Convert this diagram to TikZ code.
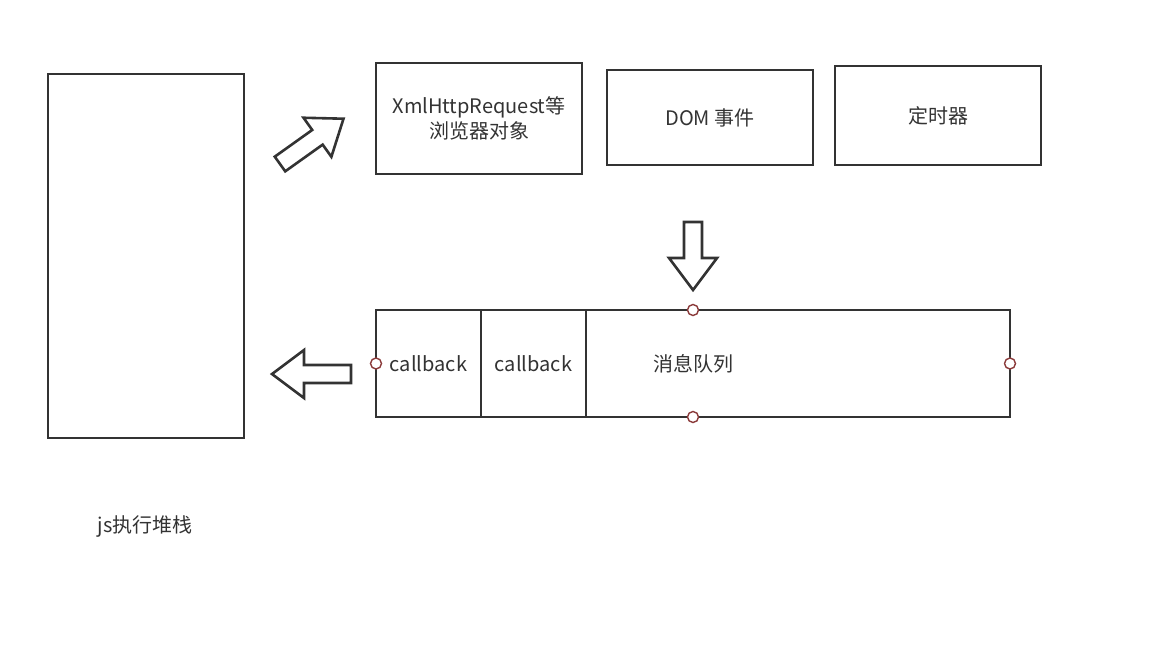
\documentclass[tikz,border=0pt]{standalone}
\usepackage{fontspec}
\setmainfont{Noto Sans CJK SC}
\usetikzlibrary{positioning}

\definecolor{linegray}{HTML}{333333}
\definecolor{portred}{HTML}{8B3A3A}

\tikzset{
box/.style={draw=linegray, line width=1pt, text=linegray, align=center, inner sep=0pt, outer sep=0pt},
port/.style={circle, draw=portred, fill=white, line width=0.7pt, inner sep=0pt, minimum size=5.5pt},
fatarrow/.pic={
    \draw[linegray, fill=white, line width=1.3pt, line join=miter]
        (0,-9) -- (#1-32,-9) -- (#1-32,-24) -- (#1,0) -- (#1-32,24) -- (#1-32,9) -- (0,9) -- cycle;
}
}

\begin{document}
\begin{tikzpicture}[x=0.5pt, y=-0.5pt, font=\fontsize{10}{12.5}\selectfont]
\useasboundingbox (0,0) rectangle (1152,648);

% js stack
\node[box, minimum width=98pt, minimum height=182pt] (stack) at (146,256) {};
\node[text=linegray] (stacklabel) at (145,527) {js执行堆栈};

% browser side
\node[box, minimum width=103pt, minimum height=55.5pt] (xhr) at (479,118.5) {XmlHttpRequest等\\浏览器对象};
\node[box, minimum width=103pt, minimum height=47.5pt] (dom) at (710,117.5) {DOM 事件};
\node[box, minimum width=103pt, minimum height=49.5pt] (timer) at (938,115.5) {定时器};

% message queue
\node[box, minimum width=317pt, minimum height=53.5pt] (queue) at (693,363.5) {};
\node[box, minimum width=52.5pt, minimum height=53.5pt, anchor=west] (cb1) at (queue.west) {callback};
\node[box, minimum width=52.5pt, minimum height=53.5pt, right=0pt of cb1] (cb2) {callback};
\node[text=linegray] (queuelabel) at (693,364) {消息队列};

\node[port] (qtop) at (queue.north) {};
\node[port] (qbottom) at (queue.south) {};
\node[port] (qleft) at (queue.west) {};
\node[port] (qright) at (queue.east) {};

% block arrows
\pic[rotate=35.5] at (280,164) {fatarrow=78};
\pic[rotate=-90] at (693,222) {fatarrow=68};
\pic[rotate=180] at (351,374) {fatarrow=79};
\end{tikzpicture}
\end{document}
